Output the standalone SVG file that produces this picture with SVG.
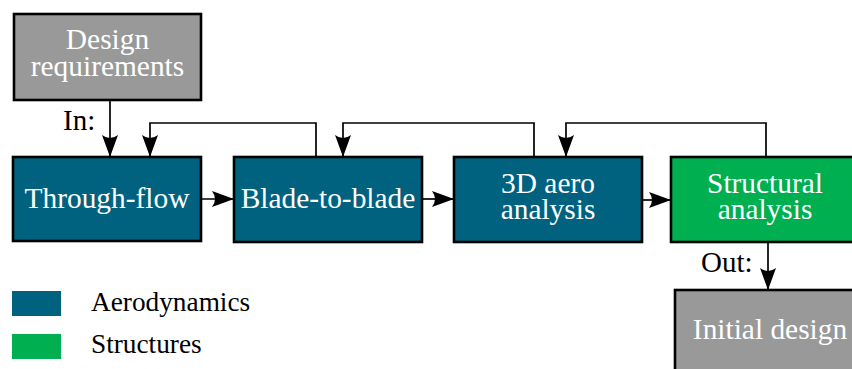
<svg xmlns="http://www.w3.org/2000/svg" width="852" height="369" viewBox="0 0 852 369">
<style>
.box{stroke:#000;stroke-width:2.6}
.gray{fill:#999999}
.blue{fill:#00627F}
.green{fill:#00AF50}
.bt{font-family:"Liberation Serif","Times New Roman",serif;font-size:29.4px;fill:#fff;text-anchor:middle}
.lt{font-family:"Liberation Serif","Times New Roman",serif;font-size:29px;fill:#000}
.gt{font-family:"Liberation Serif","Times New Roman",serif;font-size:27.3px;fill:#000}
.c{fill:none;stroke:#000;stroke-width:1.7;marker-end:url(#ah)}
</style>
<defs>
<marker id="ah" markerUnits="userSpaceOnUse" markerWidth="24" markerHeight="20" viewBox="-22 -10 24 20" refX="0" refY="0" orient="auto">
<path d="M0,0 L-22,-8 Q-16,0 -22,8 Z" fill="#000"/>
</marker>
</defs>
<rect width="852" height="369" fill="#fff"/>
<g id="connectors">
<path class="c" d="M110,100 V157"/>
<path class="c" d="M201,199 H234"/>
<path class="c" d="M422,199 H454"/>
<path class="c" d="M642,200 H671"/>
<path class="c" d="M768,242 V290"/>
<path class="c" d="M316,157 V123 H150 V157"/>
<path class="c" d="M534,157 V123 H343 V157"/>
<path class="c" d="M766,157 V123 H566 V157"/>
<text class="lt" x="63" y="130">In:</text>
<text class="lt" x="701" y="272">Out:</text>
</g>
<g id="design-requirements">
<rect class="box gray" x="14" y="14" width="187" height="86"/>
<text class="bt"><tspan x="107.5" y="49">Design</tspan><tspan x="107.5" y="76">requirements</tspan></text>
</g>
<g id="through-flow">
<rect class="box blue" x="13" y="157" width="188" height="84"/>
<text class="bt" x="107" y="208">Through-flow</text>
</g>
<g id="blade-to-blade">
<rect class="box blue" x="234" y="157" width="188" height="85"/>
<text class="bt" x="328" y="208">Blade-to-blade</text>
</g>
<g id="aero-3d">
<rect class="box blue" x="454" y="157" width="188" height="85"/>
<text class="bt"><tspan x="548" y="193">3D aero</tspan><tspan x="548" y="219">analysis</tspan></text>
</g>
<g id="structural">
<rect class="box green" x="671" y="157" width="188" height="85"/>
<text class="bt"><tspan x="765" y="193">Structural</tspan><tspan x="765" y="219">analysis</tspan></text>
</g>
<g id="initial-design">
<rect class="box gray" x="675" y="290" width="188" height="90"/>
<text class="bt" x="770" y="339">Initial design</text>
</g>
<g id="legend">
<rect class="blue" x="12" y="291" width="49" height="25"/>
<text class="gt" x="91" y="311">Aerodynamics</text>
<rect class="green" x="12" y="334" width="49" height="25"/>
<text class="gt" x="91" y="353">Structures</text>
</g>
</svg>
